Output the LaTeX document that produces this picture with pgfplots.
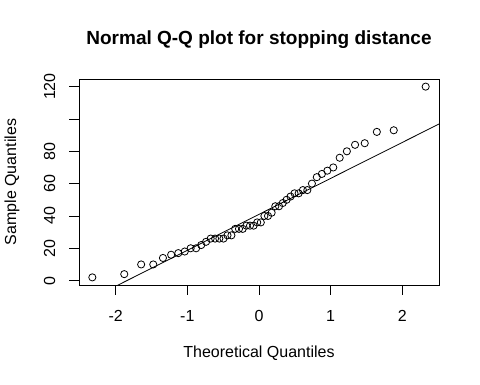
\documentclass[border=0pt]{standalone}
\usepackage{fontspec}
\setmainfont{Liberation Sans}
\usepackage{pgfplots}
\pgfplotsset{compat=1.18}
\begin{document}
\begin{tikzpicture}[x=1pt,y=1pt]
\useasboundingbox (0,0) rectangle (480,384);
\begin{axis}[
 at={(79pt,99pt)}, anchor=south west,
 scale only axis, width=360pt, height=206pt,
 xmin=-2.51246, xmax=2.51246, ymin=-2.72, ymax=124.72,
 axis line style={line width=0.8pt},
 tick align=outside, major tick length=9.5pt,
 xtick={-2,-1,0,1,2}, ytick={0,20,40,60,80,100,120},
 yticklabels={0,20,40,60,80,,120},
 tick style={line width=0.8pt, black},
 xtick pos=bottom, ytick pos=left,
 /pgf/number format/assume math mode=true,
 tick label style={font=\fontsize{16}{19}\selectfont},
 xticklabel style={anchor=center, yshift=-21pt},
 yticklabel style={rotate=90, anchor=center, yshift=20pt},
 clip=true,
]
\addplot[only marks, mark=o, mark size=3.6pt, mark options={line width=0.8pt}, black] coordinates {
(-2.326348,2) (-1.880794,4) (-1.644854,10) (-1.475791,10) (-1.340755,14)
(-1.226528,16) (-1.126391,17) (-1.036433,18) (-0.954165,20) (-0.877896,20)
(-0.806421,22) (-0.738847,24) (-0.674490,26) (-0.612813,26) (-0.553385,26)
(-0.495850,26) (-0.439913,28) (-0.385320,28) (-0.331853,32) (-0.279319,32)
(-0.227545,32) (-0.176374,34) (-0.125661,34) (-0.075270,34) (-0.025069,36)
(0.025069,36) (0.075270,40) (0.125661,40) (0.176374,42) (0.227545,46)
(0.279319,46) (0.331853,48) (0.385320,50) (0.439913,52) (0.495850,54)
(0.553385,54) (0.612813,56) (0.674490,56) (0.738847,60) (0.806421,64)
(0.877896,66) (0.954165,68) (1.036433,70) (1.126391,76) (1.226528,80)
(1.340755,84) (1.475791,85) (1.644854,92) (1.880794,93) (2.326348,120)
};
\addplot[black, line width=0.8pt] coordinates {(-3,-25.717) (3,107.717)};
\end{axis}
\node[font=\bfseries\fontsize{19}{23}\selectfont] at (259,344) {Normal Q-Q plot for stopping distance};
\node[font=\fontsize{16}{19}\selectfont] at (259,31) {Theoretical Quantiles};
\node[font=\fontsize{16}{19}\selectfont, rotate=90] at (12,202) {Sample Quantiles};
\end{tikzpicture}
\end{document}
